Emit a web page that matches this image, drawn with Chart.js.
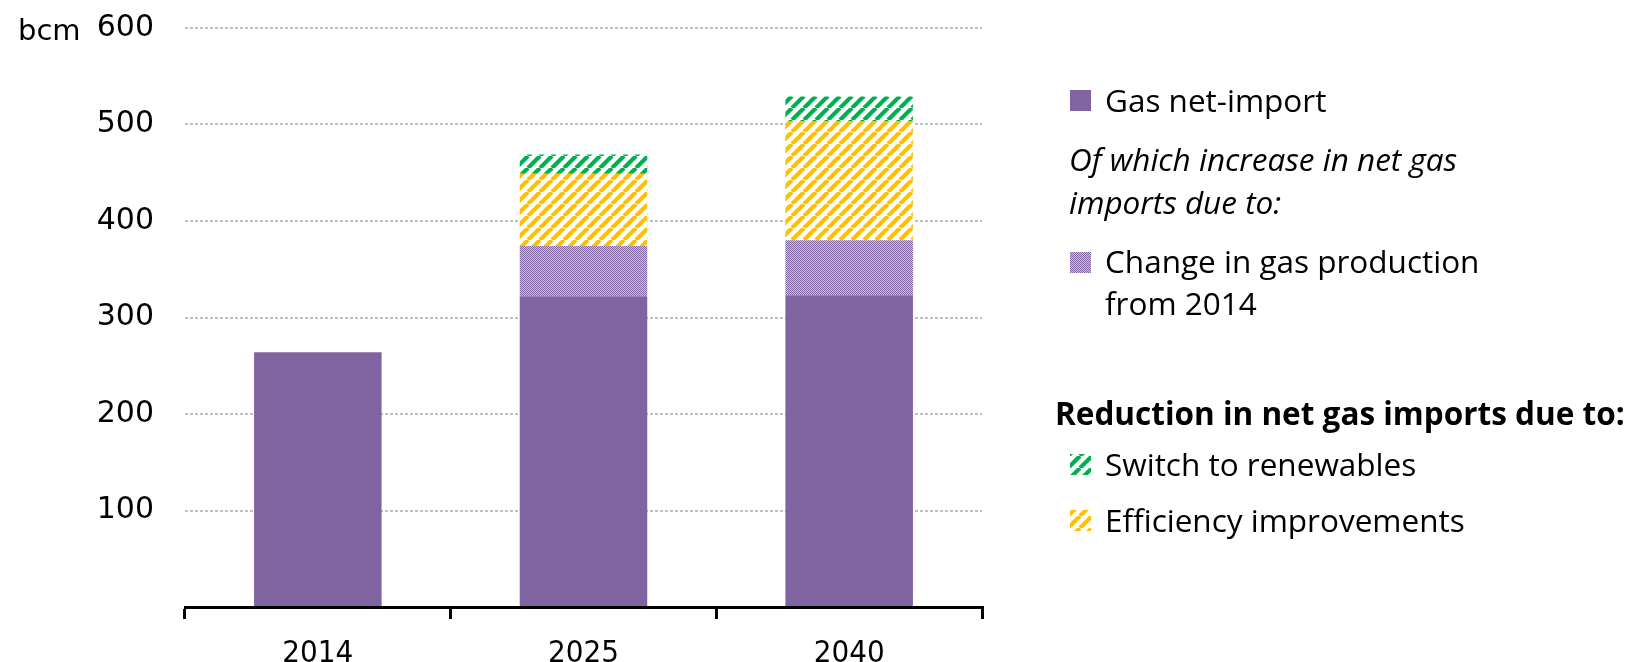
<!DOCTYPE html>
<html>
<head>
<meta charset="utf-8">
<script src="https://cdn.jsdelivr.net/npm/chart.js@4"></script>
<style>
  html, body { margin: 0; padding: 0; background: #fff; }
</style>
</head>
<body>
<canvas id="gasChart" width="1635" height="662"></canvas>
<script>
// Net gas imports, bcm
const years = ['2014', '2025', '2040'];
const netImport = [264, 322, 323];
const productionChange = [null, 52, 57];
const efficiency = [null, 75, 123];
const renewables = [null, 20, 26];

const PURPLE = '#8064A2';
const YELLOW = '#FFC000';
const GREEN = '#00B050';

// small tiles for the hatched / dotted fills
function stripes(color) {
  const s = 12;
  const c = document.createElement('canvas');
  c.width = s; c.height = s;
  const g = c.getContext('2d');
  g.fillStyle = '#fff';
  g.fillRect(0, 0, s, s);
  g.strokeStyle = color;
  g.lineWidth = 4.2;
  g.beginPath();
  for (const o of [-s, 0, s]) {
    g.moveTo(o, s);
    g.lineTo(o + s, 0);
  }
  g.stroke();
  return g.createPattern(c, 'repeat');
}

function checker() {
  const c = document.createElement('canvas');
  c.width = 2; c.height = 2;
  const g = c.getContext('2d');
  g.fillStyle = '#CFC3DF';
  g.fillRect(0, 0, 2, 2);
  g.fillStyle = PURPLE;
  g.fillRect(0, 0, 1, 1);
  g.fillRect(1, 1, 1, 1);
  return g.createPattern(c, 'repeat');
}

const fills = {
  net: PURPLE,
  prod: checker(),
  eff: stripes(YELLOW),
  ren: stripes(GREEN)
};

const sideLegend = {
  id: 'sideLegend',
  afterDraw(chart) {
    const ctx = chart.ctx;
    ctx.save();
    ctx.textAlign = 'left';
    ctx.textBaseline = 'alphabetic';

    ctx.fillStyle = '#000';
    ctx.font = '29px "DejaVu Sans"';
    ctx.fillText('bcm', 18, 40);

    const box = (fill, y) => {
      ctx.fillStyle = fill;
      ctx.fillRect(1070, y, 21, 21);
    };
    box(fills.net, 90);
    box(fills.prod, 252);
    box(fills.ren, 454);
    box(fills.eff, 510);

    ctx.fillStyle = '#000';
    ctx.font = '31.5px "Open Sans"';
    ctx.fillText('Gas net-import', 1105, 112);
    ctx.fillText('Change in gas production', 1105, 273);
    ctx.fillText('from 2014', 1105, 315);
    ctx.fillText('Switch to renewables', 1105, 476);
    ctx.fillText('Efficiency improvements', 1105, 532);

    ctx.font = 'italic 31.5px "Open Sans"';
    ctx.fillText('Of which increase in net gas', 1069, 171);
    ctx.fillText('imports due to:', 1069, 214);

    ctx.font = 'bold 31.5px "Open Sans"';
    ctx.fillText('Reduction in net gas imports due to:', 1055, 425);
    ctx.restore();
  }
};

new Chart(document.getElementById('gasChart').getContext('2d'), {
  type: 'bar',
  data: {
    labels: years,
    datasets: [
      { label: 'Gas net-import', data: netImport, backgroundColor: fills.net },
      { label: 'Change in gas production from 2014', data: productionChange, backgroundColor: fills.prod },
      { label: 'Efficiency improvements', data: efficiency, backgroundColor: fills.eff },
      { label: 'Switch to renewables', data: renewables, backgroundColor: fills.ren }
    ]
  },
  options: {
    responsive: false,
    animation: false,
    layout: { padding: { left: 0, right: 653, top: 28, bottom: 0 } },
    datasets: {
      bar: { categoryPercentage: 1, barPercentage: 0.48, borderWidth: 0 }
    },
    plugins: {
      legend: { display: false },
      tooltip: { enabled: false }
    },
    scales: {
      x: {
        stacked: true,
        afterFit: s => { s.height = 55; },
        grid: {
          offset: true,
          drawOnChartArea: false,
          drawTicks: true,
          tickLength: 12,
          color: '#000',
          lineWidth: 3
        },
        border: { display: true, color: '#000', width: 3 },
        ticks: {
          color: '#000',
          padding: 16,
          font: { family: '"DejaVu Sans Condensed", "DejaVu Sans"', size: 31 }
        }
      },
      y: {
        stacked: true,
        min: 0,
        max: 600,
        afterFit: s => {
          s.width = 185;
          s.paddingTop = 0;
          s.paddingBottom = 0;
        },
        grid: {
          drawTicks: false,
          lineWidth: 2,
          color: c => (c.tick && c.tick.value === 0) ? 'rgba(0,0,0,0)' : '#BFBFBF'
        },
        border: { display: false, dash: [3, 2] },
        ticks: {
          stepSize: 100,
          padding: 31,
          color: '#000',
          font: { family: '"DejaVu Sans"', size: 30 },
          callback: v => v === 0 ? '' : v
        }
      }
    }
  },
  plugins: [sideLegend]
});
</script>
</body>
</html>
